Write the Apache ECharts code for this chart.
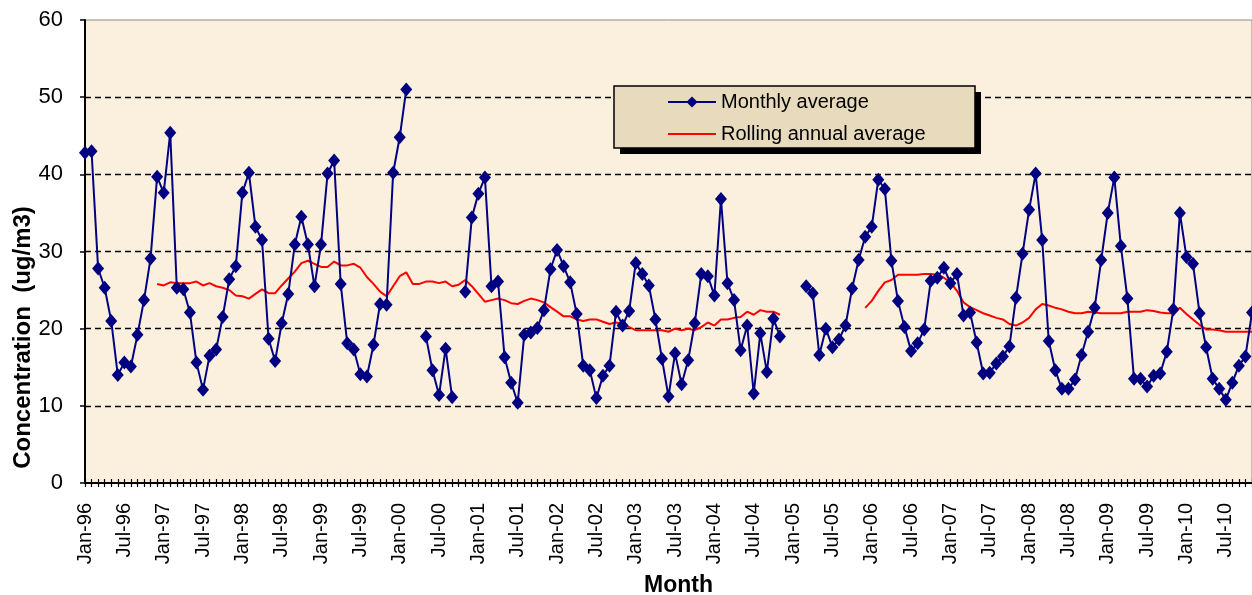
<!DOCTYPE html>
<html><head><meta charset="utf-8">
<script src="https://cdn.jsdelivr.net/npm/echarts@6/dist/echarts.min.js"></script>
<style>html,body{margin:0;padding:0;background:#fff}#c{width:1252px;height:595px}</style>
</head><body><div id="c"></div>
<script>
var monthNames = ['Jan','Feb','Mar','Apr','May','Jun','Jul','Aug','Sep','Oct','Nov','Dec'];
var startYear = 1996, monthCount = 179;
var categories = [];
for (var i = 0; i < monthCount; i++) {
  var y = startYear + Math.floor(i / 12);
  categories.push(monthNames[i % 12] + '-' + String(y).slice(2));
}
var yTicks = [0, 10, 20, 30, 40, 50, 60];
var seriesNames = ['Monthly average', 'Rolling annual average'];

var monthlyAverage = [
  42.8, 43.0, 27.8, 25.3, 21.0, 14.0, 15.6, 15.1, 19.2, 23.7, 29.1, 39.7,
  37.6, 45.4, 25.3, 25.1, 22.1, 15.6, 12.1, 16.5, 17.3, 21.5, 26.4, 28.1,
  37.6, 40.2, 33.2, 31.5, 18.7, 15.8, 20.7, 24.5, 30.9, 34.5, 30.9, 25.5,
  30.9, 40.1, 41.8, 25.8, 18.1, 17.3, 14.1, 13.8, 17.9, 23.2, 23.1, 40.2,
  44.8, 51.0, null, null, 19.0, 14.6, 11.4, 17.4, 11.1, null, 24.8, 34.4,
  37.5, 39.6, 25.5, 26.1, 16.3, 13.0, 10.4, 19.2, 19.5, 20.1, 22.4, 27.7,
  30.2, 28.1, 26.0, 21.9, 15.2, 14.6, 11.0, 13.9, 15.2, 22.2, 20.4, 22.3,
  28.5, 27.1, 25.6, 21.2, 16.1, 11.2, 16.8, 12.8, 15.9, 20.7, 27.1, 26.8,
  24.3, 36.8, 25.9, 23.7, 17.2, 20.4, 11.6, 19.4, 14.4, 21.3, 19.0, null,
  null, null, 25.5, 24.6, 16.6, 20.0, 17.6, 18.6, 20.4, 25.2, 28.9, 31.9,
  33.2, 39.3, 38.1, 28.8, 23.6, 20.2, 17.1, 18.1, 19.9, 26.2, 26.6, 27.9,
  25.9, 27.1, 21.7, 22.1, 18.2, 14.2, 14.3, 15.5, 16.4, 17.7, 24.0, 29.7,
  35.4, 40.1, 31.5, 18.4, 14.6, 12.2, 12.2, 13.4, 16.6, 19.6, 22.7, 28.9,
  35.0, 39.6, 30.7, 23.9, 13.5, 13.5, 12.5, 13.9, 14.2, 17.0, 22.5, 35.0,
  29.3, 28.4, 22.0, 17.6, 13.5, 12.2, 10.8, 13.0, 15.2, 16.4, 22.1
];

var rollingAverage = [
  null, null, null, null, null, null, null, null, null, null, null, 25.8,
  25.6, 26.0, 25.9, 25.9, 25.9, 26.1, 25.6, 25.9, 25.5, 25.3, 25.0, 24.3,
  24.2, 23.9, 24.5, 25.1, 24.6, 24.6, 25.6, 26.5, 27.4, 28.5, 28.8, 28.4,
  28.0, 28.0, 28.7, 28.2, 28.2, 28.4, 27.9, 26.7, 25.8, 24.8, 24.2, 25.5,
  26.8, 27.3, 25.8, 25.8, 26.1, 26.1, 25.9, 26.1, 25.5, 25.7, 26.3, 25.5,
  24.5, 23.5, 23.7, 23.9, 23.7, 23.3, 23.2, 23.6, 23.9, 23.7, 23.4, 22.8,
  22.2, 21.6, 21.6, 21.2, 21.0, 21.2, 21.2, 20.9, 20.6, 20.8, 20.6, 20.2,
  19.8, 19.8, 19.8, 19.8, 19.8, 19.6, 20.0, 19.8, 20.0, 19.8, 20.2, 20.8,
  20.4, 21.2, 21.2, 21.4, 21.5, 22.2, 21.8, 22.4, 22.2, 22.2, 21.8, null,
  null, null, null, null, null, null, null, null, null, null, null, 22.7,
  23.6, 24.9, 26.0, 26.3, 27.0, 27.0, 27.0, 27.0, 27.1, 27.1, 27.0, 26.6,
  26.0, 24.9, 23.4, 22.8, 22.4, 22.0, 21.7, 21.4, 21.2, 20.6, 20.4, 20.8,
  21.4, 22.5, 23.2, 23.0, 22.7, 22.5, 22.2, 22.0, 22.0, 22.2, 22.1, 22.0,
  22.0, 22.0, 22.0, 22.2, 22.2, 22.2, 22.4, 22.3, 22.1, 22.0, 22.0, 22.7,
  21.9, 21.2, 20.5, 19.9, 19.9, 19.8, 19.6, 19.6, 19.6, 19.6, 19.6
];

var FONT = 'Arial, "Liberation Sans", sans-serif';
var chart = echarts.init(document.getElementById('c'), null, {renderer: 'canvas'});
chart.setOption({
  backgroundColor: '#ffffff',
  animation: false,
  textStyle: {fontFamily: FONT},
  grid: {
    left: 85, right: 0, top: 20, bottom: 112,
    containLabel: false, outerBoundsMode: 'none',
    show: true, backgroundColor: '#FBF0DD', borderColor: '#8a8a8a', borderWidth: 1
  },
  graphic: [{
    type: 'rect', z: 10, silent: true,
    shape: {x: 620, y: 92, width: 361, height: 62},
    style: {fill: '#000'}
  }, {
    type: 'rect', z: 11, silent: true,
    shape: {x: 614, y: 86, width: 361, height: 62},
    style: {fill: '#E8DABD', stroke: '#000', lineWidth: 1.5}
  }],
  legend: {
    data: [
      {name: seriesNames[0]},
      {name: seriesNames[1], icon: 'path://M0,0L48,0L48,2L0,2Z'}
    ],
    orient: 'vertical',
    left: 614, top: 86,
    padding: [4, 0, 0, 53],
    itemGap: 8,
    itemWidth: 48, itemHeight: 14,
    symbolKeepAspect: true,
    z: 12,
    textStyle: {fontFamily: FONT, fontSize: 20, color: '#000', lineHeight: 24}
  },
  xAxis: [{
    type: 'category', data: categories, boundaryGap: false,
    name: 'Month', nameLocation: 'middle', nameGap: 91, nameMoveOverlap: false,
    nameTextStyle: {fontFamily: FONT, fontSize: 23, fontWeight: 'bold', color: '#000', padding: [0, 0, 0, 20]},
    axisLine: {show: true, lineStyle: {color: '#000', width: 2}},
    axisTick: {show: true, interval: 0, length: 4, lineStyle: {color: '#000', width: 1.2}},
    axisLabel: {interval: 5, rotate: 90, fontSize: 20, color: '#000', margin: 20, fontFamily: FONT},
    splitLine: {show: false}
  }, {
    type: 'category', data: categories, boundaryGap: false, position: 'bottom',
    axisLine: {show: false},
    axisTick: {show: true, inside: true, interval: 0, length: 4, lineStyle: {color: '#000', width: 1.2}},
    axisLabel: {show: false},
    splitLine: {show: false}
  }],
  yAxis: {
    type: 'value', min: yTicks[0], max: yTicks[yTicks.length - 1], interval: 10,
    name: 'Concentration  (ug/m3)', nameLocation: 'middle', nameGap: 50, nameMoveOverlap: false,
    nameTextStyle: {fontFamily: FONT, fontSize: 24, fontWeight: 'bold', color: '#000', padding: [0, 172, 0, 0]},
    axisLine: {show: true, lineStyle: {color: '#000', width: 2}},
    axisTick: {show: true, length: 5, lineStyle: {color: '#000', width: 1.5}},
    axisLabel: {fontSize: 22, color: '#000', margin: 22, fontFamily: FONT},
    splitLine: {show: true, showMinLine: false, showMaxLine: false,
      lineStyle: {color: '#000', type: [6, 4], width: 1.3}}
  },
  series: [{
    name: seriesNames[0], type: 'line', data: monthlyAverage,
    connectNulls: false,
    symbol: 'diamond', symbolSize: [12, 14], showSymbol: true, showAllSymbol: true,
    itemStyle: {color: '#000080'},
    lineStyle: {color: '#000080', width: 2},
    z: 3
  }, {
    name: seriesNames[1], type: 'line', data: rollingAverage,
    connectNulls: false,
    symbol: 'none', showSymbol: false,
    itemStyle: {color: '#FF0000'},
    lineStyle: {color: '#FF0000', width: 2},
    z: 2
  }]
});
</script></body></html>
